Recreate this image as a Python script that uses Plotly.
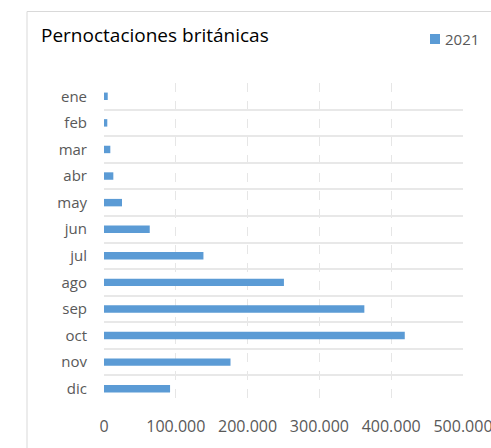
import plotly.graph_objects as go

months = ["ene", "feb", "mar", "abr", "may", "jun", "jul", "ago", "sep", "oct", "nov", "dic"]
values_2021 = [5200, 4600, 8800, 13000, 25100, 63700, 138500, 250600, 362600, 418900, 176200, 92000]
series_name = "2021"
title_text = "Pernoctaciones británicas"
x_ticks = [0, 100000, 200000, 300000, 400000, 500000]
x_tick_labels = ["0", "100.000", "200.000", "300.000", "400.000", "500.000"]

FONT = "Open Sans"
TXT = "#595959"
BAR = "#5b9bd5"

W, H = 491, 448
L, R, T, B = 104, 28, 83, 46
pw, ph = W - L - R, H - T - B


def px(x):
    return (x - L) / pw


def py(y):
    return (H - B - y) / ph


fig = go.Figure()
fig.add_trace(go.Bar(
    y=months, x=values_2021, orientation="h", name=series_name,
    marker=dict(color=BAR, line=dict(width=0)), width=0.28,
    showlegend=False,
))

fig.update_layout(
    width=W, height=H,
    margin=dict(l=L, r=R, t=T, b=B, autoexpand=False),
    paper_bgcolor="white", plot_bgcolor="white",
    font=dict(family=FONT, color=TXT, size=14),
    title=dict(text=title_text, x=41/W, xanchor="left", y=1-35/H, yanchor="middle",
               font=dict(family=FONT, size=19, color="#000000")),
    showlegend=False,
    xaxis=dict(range=[0, 500000], tickvals=x_ticks, ticktext=x_tick_labels,
               showgrid=True, gridcolor="#e6e6e6", griddash="dash", gridwidth=1,
               zeroline=False, showline=False, ticks="", tickfont=dict(size=16, color=TXT),
               ticklabelstandoff=13, ticklabeloverflow="allow", fixedrange=True),
    yaxis=dict(categoryorder="array", categoryarray=months, autorange="reversed",
               tickson="boundaries", showgrid=True, gridcolor="#e8e8e8", gridwidth=1.5,
               showline=False, ticks="", tickfont=dict(size=15, color=TXT),
               ticklabelstandoff=16, zeroline=False, fixedrange=True),
    shapes=[
        dict(type="rect", xref="paper", yref="paper",
             x0=px(27), x1=px(W + 20), y0=py(H + 20), y1=py(11.5),
             line=dict(color="#d9d9d9", width=1), fillcolor="rgba(0,0,0,0)", layer="below"),
        # legend swatch
        dict(type="rect", xref="paper", yref="paper",
             x0=px(430), x1=px(440), y0=py(44), y1=py(34),
             line=dict(width=0), fillcolor=BAR),
    ],
    annotations=[
        dict(text=series_name, xref="paper", yref="paper", x=px(443), y=py(39),
             xanchor="left", yanchor="middle", showarrow=False,
             font=dict(family=FONT, size=15, color=TXT)),
    ],
)

fig.write_html(
    "out.html",
    config={"displayModeBar": False},
    post_script="document.body.style.margin='0';document.body.style.overflow='hidden';",
)
